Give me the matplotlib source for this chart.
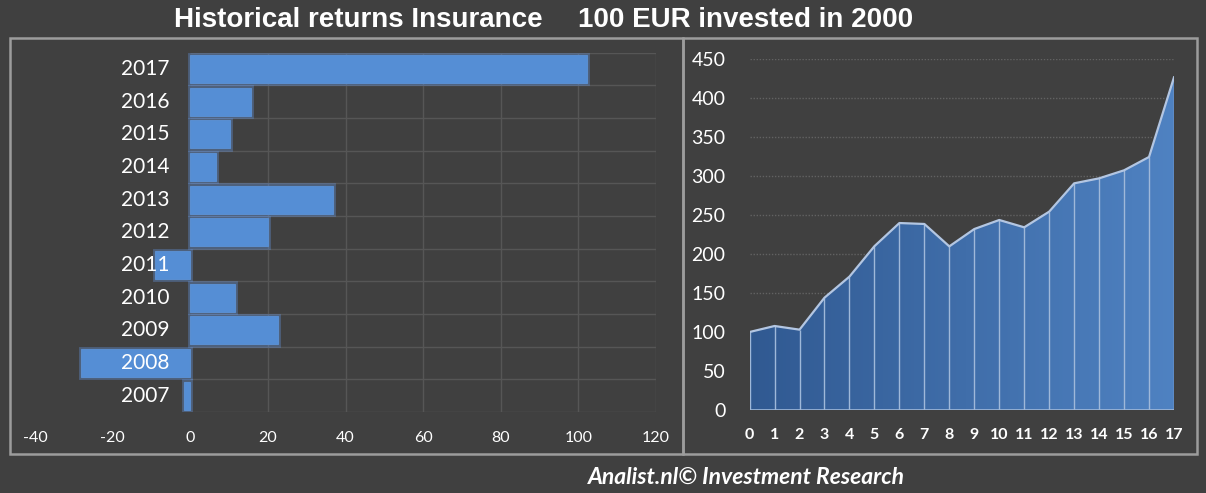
import matplotlib.pyplot as plt
import numpy as np
from matplotlib.patches import Rectangle

# data
years = ['2007', '2008', '2009', '2010', '2011', '2012',
         '2013', '2014', '2015', '2016', '2017']
returns = [-1.7, -28.2, 22.5, 11.6, -9.2, 20.0, 36.7, 6.6, 10.3, 15.7, 102.2]
bar_ticks = [-40, -20, 0, 20, 40, 60, 80, 100, 120]

periods = list(range(18))
invested = [100, 107.7, 103, 144, 171, 210, 239.7, 238.5, 209.8, 232,
            243.6, 234.2, 254.3, 290.6, 297, 307.3, 324.4, 426.5]
value_ticks = [0, 50, 100, 150, 200, 250, 300, 350, 400, 450]

title_left = 'Historical returns Insurance'
title_right = '100 EUR invested in 2000'
footer = 'Analist.nl\u00a9 Investment Research'

BG = '#404040'
GRID = '#565656'
BORDER = '#9c9c9c'
BAR = '#558ED5'
W, H = 1206, 493

plt.rcParams['font.family'] = ['Lato', 'DejaVu Sans']
plt.rcParams['axes.unicode_minus'] = False

fig = plt.figure(figsize=(W / 100, H / 100), dpi=100, facecolor=BG)


def px_axes(x0, y0, x1, y1):
    # axes placed in pixel coords measured from top-left
    ax = fig.add_axes([x0 / W, 1 - y1 / H, (x1 - x0) / W, (y1 - y0) / H])
    ax.set_facecolor('none')
    for s in ax.spines.values():
        s.set_visible(False)
    return ax


# panel frames
fig.add_artist(Rectangle((10 / W, 1 - 454 / H), 673 / W, 416 / H, transform=fig.transFigure,
                         fill=False, ec=BORDER, lw=1.8))
fig.add_artist(Rectangle((683 / W, 1 - 454 / H), 514 / W, 416 / H, transform=fig.transFigure,
                         fill=False, ec=BORDER, lw=1.8))

# ---- left: yearly returns
ax1 = px_axes(35, 52.7, 656, 412)
ax1.set_xlim(bar_ticks[0], bar_ticks[-1])
ax1.set_ylim(-0.5, len(years) - 0.5)
ax1.hlines(np.arange(-0.5, len(years), 1), 0, bar_ticks[-1], color=GRID, lw=1, zorder=1)
ax1.vlines([t for t in bar_ticks if t > 0], -0.5, len(years) - 0.5, color=GRID, lw=1, zorder=1)
# soft glow behind the bars
ax1.barh(range(len(years)), returns, height=0.88, color='none',
         edgecolor=(0.40, 0.60, 0.90, 0.35), lw=3.5, zorder=2)
ax1.barh(range(len(years)), returns, height=0.86, color=BAR,
         edgecolor='#5a8ed0', lw=0.8, zorder=3)
ax1.set_xticks(bar_ticks)
ax1.set_yticks([])
ax1.tick_params(axis='x', length=0, pad=14, labelsize=11.5, labelcolor='white')
for i, y in enumerate(years):
    ax1.annotate(y, (0, i), xytext=(-15, 0), textcoords='offset points',
                 ha='right', va='center', fontsize=15, color='white', zorder=6)

# ---- right: growth of 100 EUR
ax2 = px_axes(749.6, 59, 1174, 410)
ax2.set_xlim(periods[0], periods[-1])
ax2.set_ylim(value_ticks[0], value_ticks[-1])
ax2.hlines(value_ticks[1:], periods[0], periods[-1], color='#626262', lw=1,
           linestyle=(0, (1, 1.2)), zorder=1)
poly = ax2.fill_between(periods, invested, 0, color='none', zorder=2)
grad = np.linspace(0, 1, 256)
c0 = np.array([0.19, 0.35, 0.57])
c1 = np.array([0.31, 0.51, 0.76])
img = (c0[None, :] * (1 - grad[:, None]) + c1[None, :] * grad[:, None])[None, :, :]
im = ax2.imshow(img, extent=[periods[0], periods[-1], 0, value_ticks[-1]],
                aspect='auto', origin='lower', zorder=2)
im.set_clip_path(poly.get_paths()[0], transform=ax2.transData)
ax2.vlines(periods, 0, invested, color='#9fb8d9', lw=1, zorder=3)
ax2.plot(periods, invested, color='#b3c6e2', lw=1.6, zorder=4)
ax2.plot([periods[0], periods[-1]], [0, 0], color='#9fb8d9', lw=1.2, zorder=4)
ax2.set_xticks(periods)
ax2.set_yticks(value_ticks)
ax2.tick_params(axis='y', length=0, pad=17.5, labelsize=14, labelcolor='white')
ax2.tick_params(axis='x', length=0, pad=13, labelsize=11.5, labelcolor='white')
for lab in ax2.get_xticklabels():
    lab.set_fontweight('bold')

# ---- texts
title_font = ['Liberation Sans Narrow', 'Liberation Sans', 'DejaVu Sans']
fig.text(358 / W, 1 - 27.3 / H, title_left, ha='center', va='baseline',
         fontsize=20, fontweight='bold', color='white', family=title_font)
fig.text(746 / W, 1 - 27.3 / H, title_right, ha='center', va='baseline',
         fontsize=20, fontweight='bold', color='white', family=title_font)
fig.text(746 / W, 1 - 484 / H, footer, ha='center', va='baseline',
         fontsize=16.5, fontweight='bold', style='italic', color='white')

fig.savefig('out.png', dpi=100, facecolor=BG)
